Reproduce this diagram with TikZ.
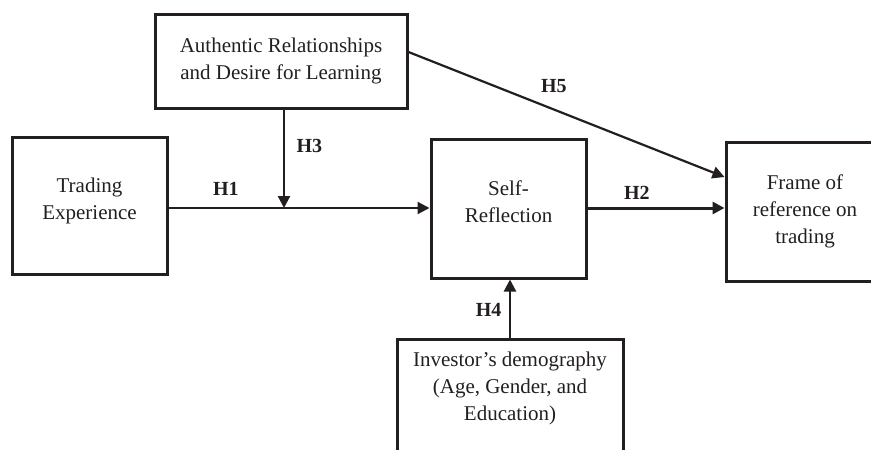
\documentclass[tikz,border=0pt]{standalone}
\usepackage{fontspec}
\setmainfont{Liberation Serif}
\usetikzlibrary{arrows.meta,positioning}
\definecolor{ink}{RGB}{35,31,32}

\begin{document}
\begin{tikzpicture}[%
    x=1pt, y=-1pt,              % Work in pixel units, y pointing down
    >={Triangle[length=12pt,width=12pt]}, % Solid triangle heads
    font=\fontsize{21}{27}\selectfont,
    ]
% -------------------------------------------------
% Box and connector styles
\tikzset{
  outline/.style={draw=ink, line width=3pt},
  base/.style={outline, align=center, text=ink, inner sep=0pt},
  norm/.style={->, draw=ink, line width=2.2pt},
  heavy/.style={norm, line width=3pt},
  hyp/.style={font=\fontsize{20}{24}\selectfont\bfseries, text=ink, inner sep=2pt}
}
\useasboundingbox (0,0) rectangle (871,450);
\clip (0,0) rectangle (871,450);
% -------------------------------------------------
% Start by placing the nodes
\node [base, minimum width=252, minimum height=94] (auth) at (281,61) {Authentic Relationships\\and Desire for Learning};
\node [base, minimum width=155, minimum height=137, text depth=14pt] (trade) at (89.5,205.5) {Trading\\Experience};
\node [base, minimum width=155, minimum height=139, text depth=14pt] (self) at (508.5,208.5) {Self-\\Reflection};
\node [base, minimum width=158, minimum height=139] (frame) at (805,211.5) {Frame of\\reference on\\trading};
\node [base, draw=none, minimum width=223, minimum height=94] (demo) at (510,388) {Investor's demography\\(Age, Gender, and\\Education)};
% bottom of this box runs off the page
\draw [outline] ([yshift=-40pt]demo.south west) |- (demo.north) -| ([yshift=-40pt]demo.south east);

% -------------------------------------------------
% Hypothesis paths
\coordinate (meet) at (284,208);
\draw [norm] (trade.east |- meet) -- node [hyp, above=9pt, pos=0.22] {H1} (trade.east |- meet -| self.west);
\draw [norm] (auth.south -| meet) -- node [hyp, right=9.5pt, pos=0.37] {H3} (meet);
\draw [heavy] (self.east |- meet) -- node [hyp, above=5pt, pos=0.36] {H2} (meet -| frame.west);
\draw [norm] ([yshift=9pt]auth.east) -- node [hyp, above=14pt, pos=0.46] {H5} ([yshift=34.5pt]frame.west);
\draw [norm] (demo.north) -- node [hyp, left=5.5pt, pos=0.5] {H4} (demo.north |- self.south);
% -------------------------------------------------
\end{tikzpicture}
\end{document}
